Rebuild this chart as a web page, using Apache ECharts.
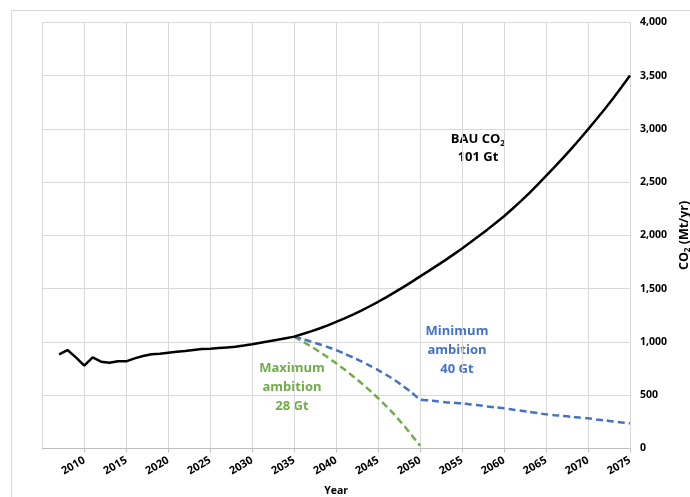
<!DOCTYPE html>
<html>
<head>
<meta charset="utf-8">
<script src="https://cdn.jsdelivr.net/npm/echarts@6/dist/echarts.min.js"></script>
<style>
  html, body { margin: 0; padding: 0; background: #fff; }
  #chart { width: 690px; height: 497px; }
</style>
</head>
<body>
<div id="chart"></div>
<script>
// Business-as-usual CO2 emissions, 2007-2075 (Mt/yr)
const bauStartYear = 2007;
const bauValues = [
  884, 924, 855, 777, 855, 815, 805, 818, 818, 846,
  868, 884, 889, 899, 907, 915, 924, 933, 937, 943,
  949, 955, 966, 978, 992, 1006, 1020, 1035, 1050, 1074,
  1099, 1126, 1156, 1188, 1222, 1257, 1295, 1335, 1377, 1421,
  1467, 1515, 1564, 1615, 1665, 1716, 1768, 1822, 1878, 1935,
  1994, 2054, 2117, 2180, 2250, 2322, 2397, 2476, 2558, 2640,
  2725, 2812, 2902, 2995, 3090, 3187, 3288, 3392, 3500
];

// Minimum ambition pathway, 2035-2075 (Mt/yr)
const minStartYear = 2035;
const minValues = [
  1050, 1028, 1003, 978, 952, 924, 890, 855, 818, 778,
  736, 690, 640, 585, 525, 460, 452, 443, 434, 429,
  424, 414, 405, 395, 386, 377, 366, 355, 343, 332,
  321, 313, 306, 298, 290, 283, 273, 264, 254, 245, 236
];

// Maximum ambition pathway, 2035-2050 (Mt/yr)
const maxStartYear = 2035;
const maxValues = [
  1050, 1005, 958, 909, 856, 800, 741, 679, 614, 545,
  472, 395, 313, 222, 125, 25
];

// Axis ranges
const yearMin = 2005;
const yearMax = 2075;
const yearStep = 5;
const co2Min = 0;
const co2Max = 4000;
const co2Step = 500;

function pairs(startYear, values) {
  return values.map((v, i) => [startYear + i, v]);
}

const FONT = '"Open Sans", "Noto Sans", sans-serif';
const GREEN = '#70AD47';
const BLUE = '#4472C4';
const GRID = '#d9d9d9';

const chart = echarts.init(document.getElementById('chart'), null, { renderer: 'canvas' });

chart.setOption({
  animation: false,
  backgroundColor: '#fff',
  textStyle: { fontFamily: FONT },
  grid: { left: 42.3, right: 60, top: 22.3, bottom: 48.5, containLabel: false, outerBoundsMode: 'none' },
  xAxis: {
    type: 'value',
    min: yearMin,
    max: yearMax,
    interval: yearStep,
    name: 'Year',
    nameLocation: 'middle',
    nameGap: 37,
    nameTextStyle: { fontFamily: FONT, fontWeight: 'bold', fontSize: 10.5, color: '#000' },
    axisLine: { show: true, lineStyle: { color: '#bfbfbf', width: 1 } },
    axisTick: { show: true, length: 4, lineStyle: { color: '#bfbfbf' } },
    splitLine: { show: true, lineStyle: { color: GRID, width: 1 } },
    axisLabel: {
      showMinLabel: false,
      showMaxLabel: true,
      rotate: 30,
      margin: 11,
      fontFamily: FONT,
      fontWeight: 'bold',
      fontSize: 11,
      color: '#000',
      formatter: v => String(v)
    }
  },
  yAxis: {
    type: 'value',
    position: 'right',
    min: co2Min,
    max: co2Max,
    interval: co2Step,
    name: '{a|CO}{s|2}{a| (Mt/yr)}',
    nameLocation: 'middle',
    nameRotate: 90,
    nameGap: 45,
    nameTextStyle: {
      rich: {
        a: { fontFamily: FONT, fontWeight: 'bold', fontSize: 12.5, color: '#000' },
        s: { fontFamily: FONT, fontWeight: 'bold', fontSize: 8, color: '#000', verticalAlign: 'bottom', padding: [6, 0, 0, 0] }
      }
    },
    axisLine: { show: false },
    axisTick: { show: false },
    splitLine: { show: true, lineStyle: { color: GRID, width: 1 } },
    axisLabel: {
      margin: 10,
      fontFamily: FONT,
      fontWeight: 'bold',
      fontSize: 10.5,
      color: '#000',
      formatter: v => v.toLocaleString('en-US')
    }
  },
  series: [
    {
      name: 'Maximum ambition',
      type: 'line',
      data: pairs(maxStartYear, maxValues),
      showSymbol: false,
      lineStyle: { color: GREEN, width: 2.5, type: [7, 4] },
      z: 2
    },
    {
      name: 'Minimum ambition',
      type: 'line',
      data: pairs(minStartYear, minValues),
      showSymbol: false,
      smooth: 0.25,
      lineStyle: { color: BLUE, width: 2.5, type: [7, 4] },
      z: 2
    },
    {
      name: 'BAU',
      type: 'line',
      data: pairs(bauStartYear, bauValues),
      showSymbol: false,
      lineStyle: { color: '#000', width: 2.5 },
      z: 3
    }
  ],
  graphic: [
    {
      type: 'rect',
      silent: true,
      shape: { x: 11.5, y: 10.5, width: 700, height: 500 },
      style: { fill: 'none', stroke: GRID, lineWidth: 1 },
      z: -1
    },
    {
      type: 'text',
      x: 478, y: 148,
      style: {
        text: '{a|BAU CO}{s|2}\n{a|101 Gt}',
        align: 'center',
        verticalAlign: 'middle',
        rich: {
          a: { fontFamily: FONT, fontWeight: 'bold', fontSize: 13, fill: '#000', lineHeight: 18 },
          s: { fontFamily: FONT, fontWeight: 'bold', fontSize: 8.5, fill: '#000', lineHeight: 18, verticalAlign: 'bottom', padding: [7, 0, 0, 0] }
        }
      }
    },
    {
      type: 'text',
      x: 292, y: 387,
      style: {
        text: 'Maximum\nambition\n28 Gt',
        align: 'center',
        verticalAlign: 'middle',
        font: 'bold 13px ' + FONT,
        fill: GREEN,
        lineHeight: 19
      }
    },
    {
      type: 'text',
      x: 457, y: 350.5,
      style: {
        text: 'Minimum\nambition\n40 Gt',
        align: 'center',
        verticalAlign: 'middle',
        font: 'bold 13px ' + FONT,
        fill: BLUE,
        lineHeight: 19
      }
    }
  ]
});
</script>
</body>
</html>
